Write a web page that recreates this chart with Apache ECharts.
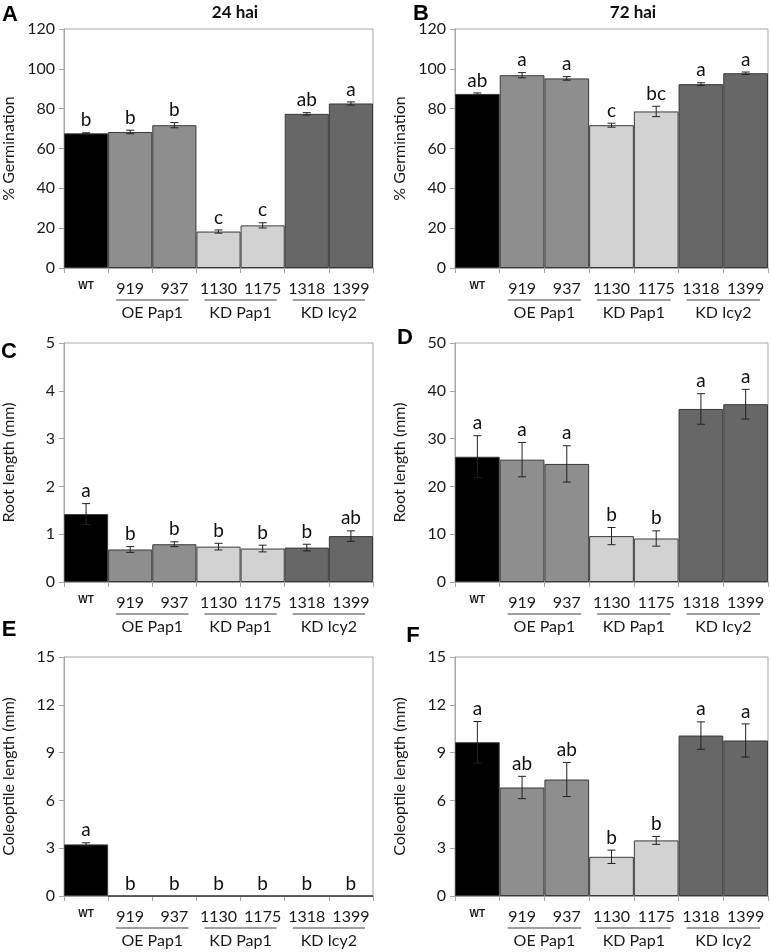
<!DOCTYPE html>
<html>
<head>
<meta charset="UTF-8"/>
<title></title>
<script src="https://cdn.jsdelivr.net/npm/echarts@6/dist/echarts.min.js"></script>
<style>
  html, body { margin: 0; padding: 0; background: #fff; }
</style>
</head>
<body>
<div id="main" style="width:771px;height:952px;"></div>
<script type="text/javascript">
// categories and groups
var cats = ['WT', '919', '937', '1130', '1175', '1318', '1399'];
var groupNames = ['OE Pap1', 'KD Pap1', 'KD Icy2'];
var groupSpans = [[1, 2], [3, 4], [5, 6]];

// 24 hai germination (%)
var germ24 = [67.6, 68.3, 71.7, 18.3, 21.4, 77.4, 82.6];
var germ24Err = [0.3, 0.9, 1.3, 0.8, 1.3, 0.6, 0.8];
var germ24Sig = ['b', 'b', 'b', 'c', 'c', 'ab', 'a'];
// 72 hai germination (%)
var germ72 = [87.4, 96.8, 95.2, 71.7, 78.6, 92.3, 97.8];
var germ72Err = [0.5, 1.3, 0.9, 1.0, 2.6, 0.7, 0.6];
var germ72Sig = ['ab', 'a', 'a', 'c', 'bc', 'a', 'a'];
// root length (mm)
var root24 = [1.42, 0.68, 0.79, 0.74, 0.70, 0.72, 0.96];
var root24Err = [0.22, 0.06, 0.05, 0.07, 0.07, 0.07, 0.11];
var root24Sig = ['a', 'b', 'b', 'b', 'b', 'b', 'ab'];
var root72 = [26.2, 25.6, 24.7, 9.6, 9.1, 36.2, 37.2];
var root72Err = [4.4, 3.6, 3.8, 1.8, 1.6, 3.2, 3.1];
var root72Sig = ['a', 'a', 'a', 'b', 'b', 'a', 'a'];
// coleoptile length (mm)
var col24 = [3.24, 0, 0, 0, 0, 0, 0];
var col24Err = [0.1, 0, 0, 0, 0, 0, 0];
var col24Sig = ['a', 'b', 'b', 'b', 'b', 'b', 'b'];
var col72 = [9.65, 6.81, 7.31, 2.46, 3.49, 10.07, 9.76];
var col72Err = [1.3, 0.7, 1.07, 0.42, 0.25, 0.86, 1.04];
var col72Sig = ['a', 'ab', 'ab', 'b', 'b', 'a', 'a'];

var barColors = ['#000000', '#8e8e8e', '#8e8e8e', '#d2d2d2', '#d2d2d2', '#676767', '#676767'];
var FONT = 'Lato, "Open Sans", sans-serif';

var panels = [
  {left: 60,  top: 29,  vals: germ24, err: germ24Err, sig: germ24Sig, max: 120, step: 20, name: '% Germination'},
  {left: 455, top: 29,  vals: germ72, err: germ72Err, sig: germ72Sig, max: 120, step: 20, name: '% Germination'},
  {left: 60,  top: 343, vals: root24, err: root24Err, sig: root24Sig, max: 5,   step: 1,  name: 'Root length (mm)'},
  {left: 455, top: 343, vals: root72, err: root72Err, sig: root72Sig, max: 50,  step: 10, name: 'Root length (mm)'},
  {left: 60,  top: 657, vals: col24,  err: col24Err,  sig: col24Sig,  max: 15,  step: 3,  name: 'Coleoptile length (mm)'},
  {left: 455, top: 657, vals: col72,  err: col72Err,  sig: col72Sig,  max: 15,  step: 3,  name: 'Coleoptile length (mm)'}
];

var grids = [], xAxes = [], yAxes = [], series = [];

panels.forEach(function (p, k) {
  grids.push({left: p.left, top: p.top, width: 313, height: 239,
    show: true, borderColor: '#a6a6a6', borderWidth: 1, backgroundColor: 'transparent'});
  xAxes.push({
    type: 'category', gridIndex: k, data: cats,
    axisLine: {lineStyle: {color: '#a6a6a6'}},
    axisTick: {show: true, length: 5, lineStyle: {color: '#a6a6a6'}},
    axisLabel: {
      interval: 0, margin: 13, fontSize: 16, color: '#1a1a1a', fontFamily: FONT,
      formatter: function (v) { return v === 'WT' ? '{wt|WT}' : v; },
      rich: {wt: {fontSize: 10, fontWeight: 'bold', color: '#1a1a1a', fontFamily: 'Arial, sans-serif'}}
    }
  });
  yAxes.push({
    type: 'value', gridIndex: k, min: 0, max: p.max, interval: p.step,
    name: p.name, nameLocation: 'middle', nameGap: 47, nameRotate: 90,
    nameTextStyle: {fontSize: 16, color: '#1a1a1a', fontFamily: FONT},
    axisLine: {show: true, lineStyle: {color: '#a6a6a6'}},
    axisTick: {show: true, length: 5, lineStyle: {color: '#a6a6a6'}},
    axisLabel: {fontSize: 16, color: '#1a1a1a', margin: 9, fontFamily: FONT},
    splitLine: {show: false}
  });
  series.push({
    type: 'bar', xAxisIndex: k, yAxisIndex: k, barCategoryGap: '0%',
    data: p.vals.map(function (v, i) {
      return {value: v, itemStyle: {color: barColors[i]}};
    }),
    itemStyle: {borderColor: '#3a3a3a', borderWidth: 1},
    emphasis: {disabled: true}
  });
  // error bars + significance letters
  series.push({
    type: 'custom', xAxisIndex: k, yAxisIndex: k, clip: false, z: 5,
    data: p.vals.map(function (v, i) { return [i, v, p.err[i]]; }),
    renderItem: function (params, api) {
      var i = api.value(0), v = api.value(1), e = api.value(2);
      var hi = api.coord([i, v + e]), lo = api.coord([i, v - e]);
      var ch = [];
      var st = {stroke: '#222', lineWidth: 1};
      if (e > 0) {
        ch.push({type: 'line', shape: {x1: hi[0], y1: hi[1], x2: lo[0], y2: lo[1]}, style: st});
        ch.push({type: 'line', shape: {x1: hi[0] - 4, y1: hi[1], x2: hi[0] + 4, y2: hi[1]}, style: st});
        ch.push({type: 'line', shape: {x1: lo[0] - 4, y1: lo[1], x2: lo[0] + 4, y2: lo[1]}, style: st});
      }
      ch.push({type: 'text', x: hi[0], y: hi[1] - 3,
        style: {text: p.sig[params.dataIndex], textAlign: 'center', textVerticalAlign: 'bottom',
          fontSize: 19, fontFamily: FONT, fill: '#111'}});
      return {type: 'group', children: ch};
    }
  });
  // group underlines and names under the axis
  series.push({
    type: 'custom', xAxisIndex: k, yAxisIndex: k, clip: false, silent: true,
    data: groupSpans,
    renderItem: function (params, api) {
      var a = api.coord([api.value(0), 0]), b = api.coord([api.value(1), 0]);
      var half = api.size([1, 0])[0] / 2;
      var x1 = a[0] - half + 8, x2 = b[0] + half - 8, y = a[1] + 32;
      return {type: 'group', children: [
        {type: 'line', shape: {x1: x1, y1: y, x2: x2, y2: y}, style: {stroke: '#7f7f7f', lineWidth: 1.5}},
        {type: 'text', x: (x1 + x2) / 2, y: y + 13,
          style: {text: groupNames[params.dataIndex], textAlign: 'center', textVerticalAlign: 'middle',
            fontSize: 16, fontFamily: FONT, fill: '#1a1a1a'}}
      ]};
    }
  });
});

var letters = [['A', 10, 15], ['B', 421, 14], ['C', 9, 352], ['D', 405, 338], ['E', 9, 630], ['F', 413, 636]];
var graphics = letters.map(function (l) {
  return {type: 'text', x: l[1], y: l[2],
    style: {text: l[0], textAlign: 'center', textVerticalAlign: 'middle', fontSize: 22,
      fontWeight: 'bold', fontFamily: 'Arial, sans-serif', fill: '#000'}};
});
graphics.push({type: 'text', x: 235, y: 13, style: {text: '24 hai', textAlign: 'center', textVerticalAlign: 'middle',
  fontSize: 17, fontWeight: 'bold', fontFamily: FONT, fill: '#111'}});
graphics.push({type: 'text', x: 633, y: 13, style: {text: '72 hai', textAlign: 'center', textVerticalAlign: 'middle',
  fontSize: 17, fontWeight: 'bold', fontFamily: FONT, fill: '#111'}});

var myChart = echarts.init(document.getElementById('main'));
myChart.setOption({
  animation: false,
  textStyle: {fontFamily: FONT},
  grid: grids,
  xAxis: xAxes,
  yAxis: yAxes,
  series: series,
  graphic: graphics
});
</script>
</body>
</html>
